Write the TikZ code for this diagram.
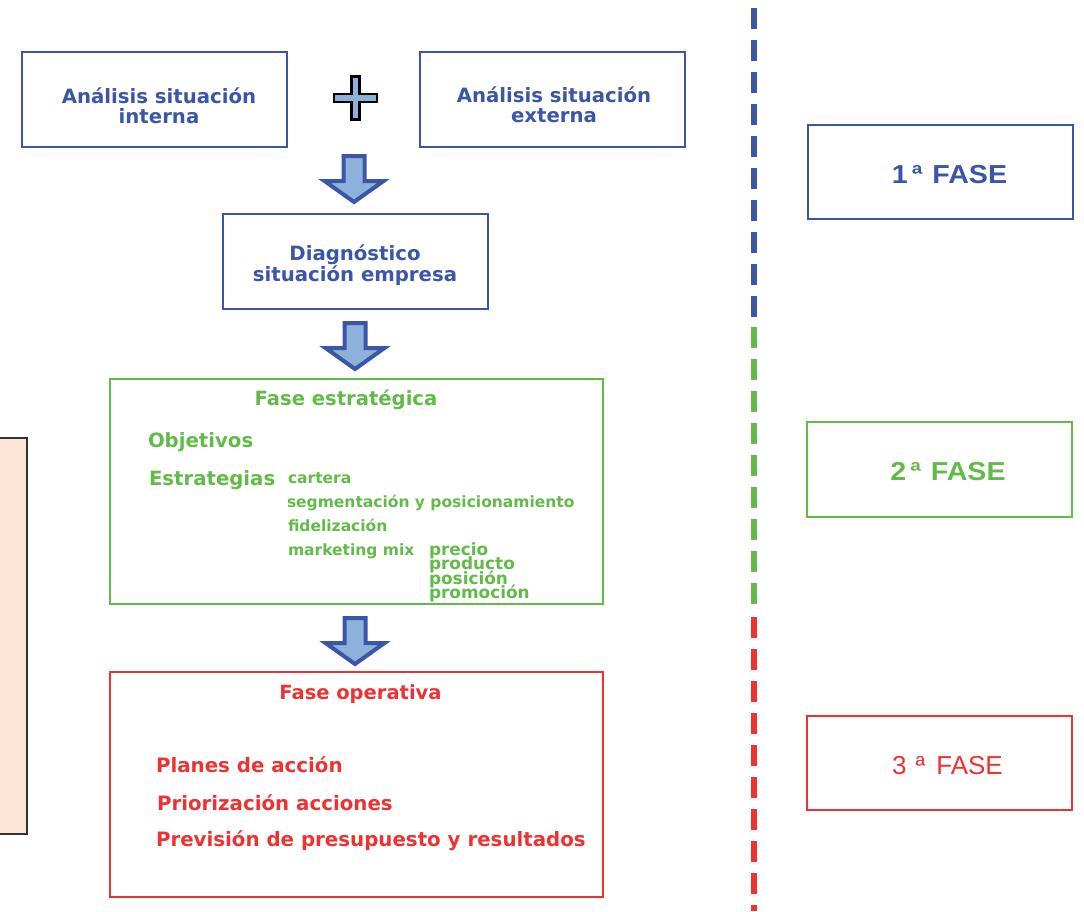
\documentclass[tikz,border=0pt]{standalone}
\usepackage{fontspec}
\setmainfont{DejaVu Sans}
\newfontfamily\arialf{Liberation Sans}
\newfontfamily\arialwide[FakeStretch=1.1]{Liberation Sans}
\usetikzlibrary{calc}
\definecolor{cblue}{RGB}{59,86,166}
\definecolor{clight}{RGB}{142,177,219}
\definecolor{cgreen}{RGB}{98,187,72}
\definecolor{cred}{RGB}{238,50,50}
\definecolor{cpeach}{RGB}{252,228,214}
\definecolor{cdark}{RGB}{50,50,50}
\newcommand\tightlines{\lineskiplimit=-30pt\relax\lineskip=0pt\relax}
\tikzset{
  box/.style={draw, line width=2pt, inner sep=0pt, outer sep=0pt, minimum width=265pt, minimum height=95pt},
  bbox/.style={box, draw=cblue},
  gbox/.style={box, draw=cgreen},
  rbox/.style={box, draw=cred},
  txt/.style={inner sep=0pt, outer sep=0pt, font=\fontsize{#1}{#1}\selectfont\bfseries},
  phase/.style={inner sep=0pt, outer sep=0pt, anchor=base},
  pics/blockarrow/.style={code={
    \draw[line width=4pt, draw=cblue, fill=clight, line join=miter]
      (-10.5,2) -- (10.5,2) -- (10.5,27) -- (29.5,27) -- (0,48) -- (-29.5,27) -- (-10.5,27) -- cycle;}},
  divider/.style={line width=6.5pt, dash pattern=on 21pt off 11pt}
}
\begin{document}
\begin{tikzpicture}[x=1pt,y=-1pt]
\useasboundingbox (0,0) rectangle (1084,911);
% left box
\node[draw=cdark, fill=cpeach, line width=2.5pt, inner sep=0pt, outer sep=0pt,
      minimum width=40pt, minimum height=396pt] (side) at (7,636) {};
% boxes
\node[bbox] (intB) at (154.5,99.5) {};
\node[bbox] (extB) at (552,99.5) {};
\node[bbox] (diagB) at (355,261.5) {};
\node[gbox, minimum width=493pt, minimum height=225pt] (estB) at (356.5,491.5) {};
\node[rbox, minimum width=493pt, minimum height=225pt] (opB) at (356.5,784.5) {};
\node[bbox, minimum height=94pt] (f1) at (940.5,172) {};
\node[gbox] (f2) at (939.5,469.5) {};
\node[rbox, minimum height=94pt] (f3) at (939.5,763) {};
% texts top
\node[txt=19.7, text=cblue, align=center, anchor=base] (intT) at (159,123.3) {Análisis situación\\interna};
\node[txt=19.7, text=cblue, align=center, anchor=base] (extT) at (554,122.5) {Análisis situación\\externa};
\node[txt=19.7, text=cblue, align=center, anchor=base] (diagT) at (355,281.5) {Diagnóstico\\situación empresa};
% plus
\draw[line width=2.5pt, draw=black, fill=clight, line join=miter]
  (351.5,76.5) -- (359.5,76.5) -- (359.5,94) -- (377,94) -- (377,102) -- (359.5,102) -- (359.5,119.5)
  -- (351.5,119.5) -- (351.5,102) -- (334,102) -- (334,94) -- (351.5,94) -- cycle;
% arrows
\pic at ($(diagB.north)+(-1,-60)$) {blockarrow};
\pic at ($(diagB.south)+(0,12)$) {blockarrow};
\pic at ($(estB.south)+(-1.5,12)$) {blockarrow};
% green texts
\node[txt=19.6, text=cgreen, anchor=base] (estT) at (346,405) {Fase estratégica};
\node[txt=19.7, text=cgreen, anchor=base west] (obj) at (148,447) {Objetivos};
\node[txt=19.7, text=cgreen, anchor=base west] (estr) at (149,485) {Estrategias};
\node[txt=15.5, text=cgreen, anchor=base west] (car) at (288,483) {cartera};
\node[txt=15.5, text=cgreen, anchor=base west] (seg) at (287,507) {segmentación y posicionamiento};
\node[txt=15.5, text=cgreen, anchor=base west] (fid) at (288,531) {fidelización};
\node[txt=15.5, text=cgreen, anchor=base west] (mm) at (288,555) {marketing mix};
\node[inner sep=0pt, outer sep=0pt, text=cgreen, anchor=base west, align=left,
      font={\fontsize{16.9}{14.5}\selectfont\bfseries\tightlines}] (mix) at (429,598.5)
      {precio\\producto\\posición\\promoción};
% red texts
\node[txt=19.5, text=cred, anchor=base] (opT) at (360.5,699) {Fase operativa};
\node[txt=19.8, text=cred, anchor=base west] (op1) at (156,772) {Planes de acción};
\node[txt=19.8, text=cred, anchor=base west] (op2) at (157,810) {Priorización acciones};
\node[txt=19.8, text=cred, anchor=base west] (op3) at (156,846) {Previsión de presupuesto y resultados};
% phase labels
\node[phase, text=cblue, font=\arialwide\bfseries\fontsize{26}{26}\selectfont] (f1T) at (949.5,183) {1\hspace{4pt}ª\hspace{10pt}FASE};
\node[phase, text=cgreen, font=\arialwide\bfseries\fontsize{26}{26}\selectfont] (f2T) at (948,480) {2\hspace{4pt}ª\hspace{10pt}FASE};
\node[phase, text=cred, font=\arialf\fontsize{26}{26}\selectfont] (f3T) at (947.5,774) {3\hspace{9pt}ª\hspace{11pt}FASE};
% divider
\coordinate (d0) at (754,8);
\coordinate (d1) at (754,317);
\coordinate (d2) at (754,327);
\coordinate (d3) at (754,604);
\coordinate (d4) at (754,617);
\coordinate (d5) at (754,911);
\draw[divider, cblue] (d0) -- (d1);
\draw[divider, cgreen] (d2) -- (d3);
\draw[divider, cred] (d4) -- (d5);
\end{tikzpicture}
\end{document}
